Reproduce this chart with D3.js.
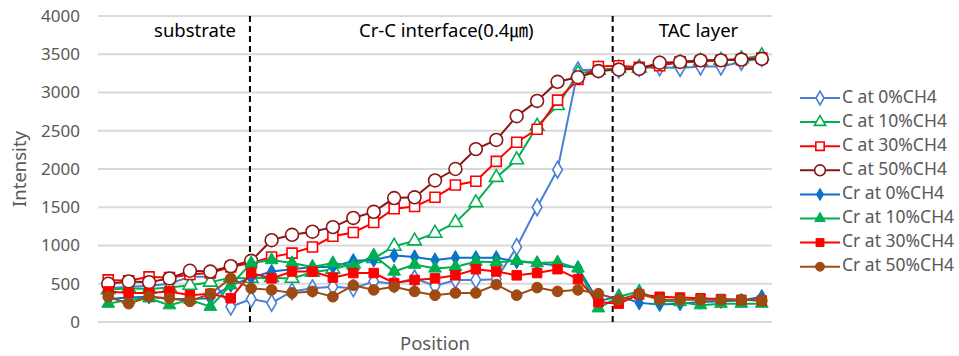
<!DOCTYPE html>
<html>
<head>
<meta charset="utf-8">
<script src="https://cdn.jsdelivr.net/npm/d3@7"></script>
<style>
  body { margin: 0; background: #fff; }
  text { font-family: "Noto Sans", "Noto Sans CJK KR", sans-serif; }
  .grid line { stroke: #d9d9d9; stroke-width: 2; }
  .axis text { fill: #595959; font-size: 17px; }
</style>
</head>
<body>
<div id="chart"></div>
<script>
// positions 0..32 along the depth profile
var positions = d3.range(33);
var yTicks = [0, 500, 1000, 1500, 2000, 2500, 3000, 3500, 4000];

var cAt0 = [440, 460, 470, 500, 590, 590, 200, 300, 250, 400, 440, 460, 440, 530, 500, 570, 470, 550, 550, 560, 980, 1500, 1990, 3290, 3300, 3300, 3320, 3330, 3320, 3340, 3340, 3400, 3450];
var cAt10 = [420, 440, 430, 450, 480, 520, 580, 570, 580, 570, 650, 690, 760, 830, 990, 1060, 1160, 1300, 1560, 1890, 2120, 2560, 2830, 3250, 3290, 3320, 3320, 3370, 3390, 3410, 3420, 3440, 3480];
var cAt30 = [550, 540, 590, 580, 620, 640, 720, 770, 850, 900, 980, 1120, 1170, 1300, 1480, 1510, 1630, 1790, 1840, 2100, 2350, 2520, 2900, 3170, 3340, 3350, 3330, 3350, 3400, 3410, 3420, 3430, 3450];
var cAt50 = [500, 530, 520, 570, 670, 660, 730, 800, 1070, 1140, 1180, 1240, 1360, 1440, 1620, 1630, 1850, 2000, 2260, 2380, 2690, 2890, 3140, 3200, 3280, 3300, 3310, 3390, 3400, 3420, 3420, 3430, 3440];
var crAt0 = [300, 320, 330, 300, 300, 310, 480, 580, 660, 690, 720, 720, 800, 810, 870, 850, 810, 840, 840, 840, 790, 770, 740, 710, 270, 340, 250, 230, 240, 260, 270, 280, 330];
var crAt10 = [240, 290, 310, 220, 290, 200, 480, 770, 810, 770, 720, 770, 730, 870, 660, 750, 700, 720, 790, 780, 800, 770, 780, 700, 180, 330, 400, 280, 260, 220, 240, 240, 240];
var crAt30 = [400, 380, 380, 400, 350, 370, 310, 640, 570, 660, 660, 580, 640, 640, 510, 550, 570, 610, 690, 660, 610, 640, 690, 560, 260, 240, 360, 330, 320, 310, 300, 290, 280];
var crAt50 = [330, 240, 330, 310, 270, 370, 570, 440, 420, 380, 400, 330, 480, 420, 460, 400, 350, 380, 380, 490, 350, 450, 400, 420, 370, 290, 370, 290, 290, 290, 290, 290, 280];

var seriesNames = ['C at 0%CH4', 'C at 10%CH4', 'C at 30%CH4', 'C at 50%CH4',
                   'Cr at 0%CH4', 'Cr at 10%CH4', 'Cr at 30%CH4', 'Cr at 50%CH4'];

// layer boundaries (in position units) and their labels
var boundaries = [6.94, 24.7];
var layerNames = ['substrate', 'Cr-C interface(0.4\u339b)', 'TAC layer'];
var layerCenters = [4.25, 16.55, 28.9];

(function () {
    'use strict';
    var width = 959, height = 356;
    var margin = {top: 16, right: 187, bottom: 34, left: 98};

    var series = [
        {name: seriesNames[0], values: cAt0,  color: '#4a7fd6', shape: 'diamond',  open: true,  size: 80},
        {name: seriesNames[1], values: cAt10, color: '#00b050', shape: 'triangle', open: true,  size: 80},
        {name: seriesNames[2], values: cAt30, color: '#ff0000', shape: 'square',   open: true,  size: 100},
        {name: seriesNames[3], values: cAt50, color: '#8b1616', shape: 'circle',   open: true,  size: 130},
        {name: seriesNames[4], values: crAt0,  color: '#0a72c8', shape: 'diamond',  open: false, size: 60},
        {name: seriesNames[5], values: crAt10, color: '#00b050', shape: 'triangle', open: false, size: 70},
        {name: seriesNames[6], values: crAt30, color: '#ff0000', shape: 'square',   open: false, size: 90},
        {name: seriesNames[7], values: crAt50, color: '#9e4a12', shape: 'circle',   open: false, size: 90}
    ];

    var shapes = {
        diamond: d3.symbolDiamond,
        triangle: d3.symbolTriangle,
        square: d3.symbolSquare,
        circle: d3.symbolCircle
    };

    var svg = d3.select('#chart').append('svg')
        .attr('width', width)
        .attr('height', height);

    var x = d3.scaleLinear()
        .domain([-0.5, positions.length - 0.5])
        .range([margin.left, width - margin.right]);
    var y = d3.scaleLinear()
        .domain([0, 4000])
        .range([height - margin.bottom, margin.top]);

    // gridlines
    svg.append('g').attr('class', 'grid')
        .selectAll('line').data(yTicks).enter().append('line')
        .attr('x1', x.range()[0]).attr('x2', x.range()[1])
        .attr('y1', function (d) { return y(d); })
        .attr('y2', function (d) { return y(d); });

    // y axis labels
    var yAxis = svg.append('g').attr('class', 'axis')
        .attr('transform', 'translate(' + (margin.left - 18) + ',0)')
        .call(d3.axisLeft(y).tickValues(yTicks).tickFormat(d3.format('d')).tickSize(0).tickPadding(0));
    yAxis.select('.domain').remove();

    svg.append('text')
        .attr('transform', 'translate(21,' + y(2000) + ') rotate(-90)')
        .attr('text-anchor', 'middle')
        .attr('dominant-baseline', 'middle')
        .attr('fill', '#595959')
        .style('font-size', '18.5px')
        .text('Intensity');

    svg.append('text')
        .attr('x', (x.range()[0] + x.range()[1]) / 2)
        .attr('y', height - 6)
        .attr('text-anchor', 'middle')
        .attr('fill', '#595959')
        .style('font-size', '18.5px')
        .text('Position');

    // layer boundaries
    svg.append('g').selectAll('line').data(boundaries).enter().append('line')
        .attr('x1', function (d) { return x(d); })
        .attr('x2', function (d) { return x(d); })
        .attr('y1', y(4000))
        .attr('y2', y(0))
        .attr('stroke', '#000')
        .attr('stroke-width', 2)
        .attr('stroke-dasharray', '6,4');

    svg.append('g').selectAll('text').data(layerNames).enter().append('text')
        .attr('x', function (d, i) { return x(layerCenters[i]); })
        .attr('y', y(3790))
        .attr('text-anchor', 'middle')
        .attr('dominant-baseline', 'middle')
        .attr('fill', '#000')
        .style('font-size', '18.5px')
        .text(function (d) { return d; });

    var line = d3.line()
        .x(function (d, i) { return x(positions[i]); })
        .y(function (d) { return y(d); });

    function marker(sel, s) {
        sel.attr('d', d3.symbol().type(shapes[s.shape]).size(s.size))
            .attr('fill', s.open ? '#fff' : s.color)
            .attr('stroke', s.color)
            .attr('stroke-width', s.open ? 1.6 : 1);
    }

    series.forEach(function (s) {
        var g = svg.append('g');
        g.append('path')
            .datum(s.values)
            .attr('fill', 'none')
            .attr('stroke', s.color)
            .attr('stroke-width', 2)
            .attr('d', line);
        g.selectAll('path.pt').data(s.values).enter().append('path')
            .attr('class', 'pt')
            .attr('transform', function (d, i) {
                return 'translate(' + x(positions[i]) + ',' + y(d) + ')';
            })
            .call(marker, s);
    });

    // legend
    var legend = svg.append('g').attr('transform', 'translate(800,98)');
    var rows = legend.selectAll('g').data(series).enter().append('g')
        .attr('transform', function (d, i) { return 'translate(0,' + (i * 24.1) + ')'; });
    rows.append('line')
        .attr('x1', 0).attr('x2', 40)
        .attr('stroke', function (d) { return d.color; })
        .attr('stroke-width', 2);
    rows.append('path')
        .attr('transform', 'translate(20,0)')
        .each(function (d) {
            var small = Object.assign({}, d, {size: d.size * 0.7});
            marker(d3.select(this), small);
        });
    rows.append('text')
        .attr('x', 42)
        .attr('dominant-baseline', 'middle')
        .attr('fill', '#595959')
        .style('font-size', '17.5px')
        .text(function (d) { return d.name; });
})();
</script>
</body>
</html>
